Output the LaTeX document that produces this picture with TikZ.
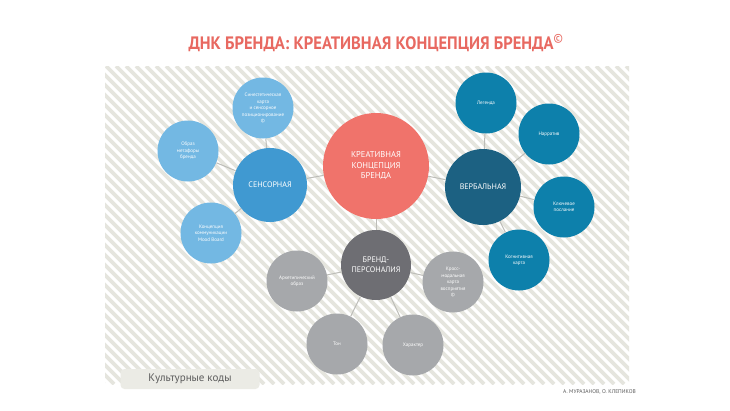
\documentclass[tikz,border=0pt]{standalone}
\usepackage{fontspec}
\usepackage{graphicx}
\setmainfont{PT Sans}
\usetikzlibrary{positioning}
\tikzset{hub/.style = {circle, inner sep = 0, text = white, align = center, font = \fontsize{8}{10}\selectfont}}
\tikzset{leaf/.style = {circle, inner sep = 0, minimum size = 61, text = white, align = center, font = \fontsize{5}{6.5}\selectfont}}
\tikzset{link/.style = {draw = mline, line width = 1}}
\definecolor{mtitle}{rgb}{0.91, 0.41, 0.38}
\definecolor{mcore}{rgb}{0.94, 0.45, 0.42}
\definecolor{msense}{rgb}{0.25, 0.60, 0.82}
\definecolor{msky}{rgb}{0.45, 0.72, 0.89}
\definecolor{mverb}{rgb}{0.11, 0.38, 0.51}
\definecolor{msea}{rgb}{0.05, 0.50, 0.67}
\definecolor{mpers}{rgb}{0.43, 0.43, 0.45}
\definecolor{mstone}{rgb}{0.65, 0.66, 0.67}
\definecolor{mstripe}{rgb}{0.90, 0.90, 0.87}
\definecolor{mline}{rgb}{0.74, 0.74, 0.72}
\definecolor{mbox}{rgb}{0.92, 0.92, 0.90}
\definecolor{mtext}{rgb}{0.36, 0.36, 0.36}
\begin{document}
\begin{tikzpicture}[x = 1pt, y = -1pt]
      \useasboundingbox [fill = white] (0, 0) rectangle (730, 410);

      \begin{scope}
        \clip (105, 66) rectangle (629, 384);
        \foreach \i in {0, ..., 86}
          \draw [mstripe, line width = 3.6] (-214 + \i * 10, 66) -- ++(318, 318);
      \end{scope}

      \node [font = \bfseries\fontsize{18}{20}\selectfont, text = mtitle] (title) at (376, 43) {\scalebox{0.92}[1]{ДНК БРЕНДА: КРЕАТИВНАЯ КОНЦЕПЦИЯ БРЕНДА\textsuperscript{\mdseries©}}};

      \node [hub, fill = mcore, minimum size = 106, font = \fontsize{8.5}{10.5}\selectfont] (center) at (376, 166) {КРЕАТИВНАЯ\\КОНЦЕПЦИЯ\\БРЕНДА};

      \node [hub, fill = msense, minimum size = 74] (sense) at (270, 185) {СЕНСОРНАЯ};
      \node [leaf, fill = msky] (synesth) at (263, 108) {Синестетическая\\карта\\и сенсорное\\позиционирование\\©};
      \node [leaf, fill = msky] (metaphor) at (188, 151) {Образ\\метафоры\\бренда};
      \node [leaf, fill = msky] (mood) at (211, 233) {Концепция\\коммуникации\\Mood Board};

      \node [hub, fill = mverb, minimum size = 76] (verb) at (483, 187) {ВЕРБАЛЬНАЯ};
      \node [leaf, fill = msea] (legend) at (486, 103) {Легенда};
      \node [leaf, fill = msea] (narrative) at (549, 134) {Нарратив};
      \node [leaf, fill = msea] (message) at (564, 207) {Ключевое\\послание};
      \node [leaf, fill = msea] (cognitive) at (519, 260) {Когнитивная\\карта};

      \node [hub, fill = mpers, minimum size = 70] (pers) at (376, 265) {БРЕНД-\\ПЕРСОНАЛИЯ};
      \node [leaf, fill = mstone] (archetype) at (297, 281) {Архетипический\\образ};
      \node [leaf, fill = mstone] (cross) at (453, 282) {Кросс-\\модальная\\карта\\восприятия\\©};
      \node [leaf, fill = mstone] (tone) at (337, 344) {Тон};
      \node [leaf, fill = mstone] (character) at (413, 345) {Характер};

      \draw [link] (center) -- (sense);
      \draw [link] (center) -- (verb);
      \draw [link] (center) -- (pers);

      \draw [link] (sense) -- (synesth);
      \draw [link] (sense) -- (metaphor);
      \draw [link] (sense) -- (mood);

      \draw [link] (verb) -- (legend);
      \draw [link] (verb) -- (narrative);
      \draw [link] (verb) -- (message);
      \draw [link] (verb) -- (cognitive);

      \draw [link] (pers) -- (archetype);
      \draw [link] (pers) -- (cross);
      \draw [link] (pers) -- (tone);
      \draw [link] (pers) -- (character);

      \node [fill = mbox, rounded corners = 4, minimum width = 139, minimum height = 20, inner sep = 0, text = mtext, font = \fontsize{11}{12}\selectfont] (culture) at (190, 379) {Культурные коды};
      \node [anchor = east, inner sep = 0, text = mtext, font = \fontsize{5.5}{6}\selectfont] (authors) at (636, 392) {А. МУРАЗАНОВ, О. КЛЕПИКОВ};
    \end{tikzpicture}
\end{document}
